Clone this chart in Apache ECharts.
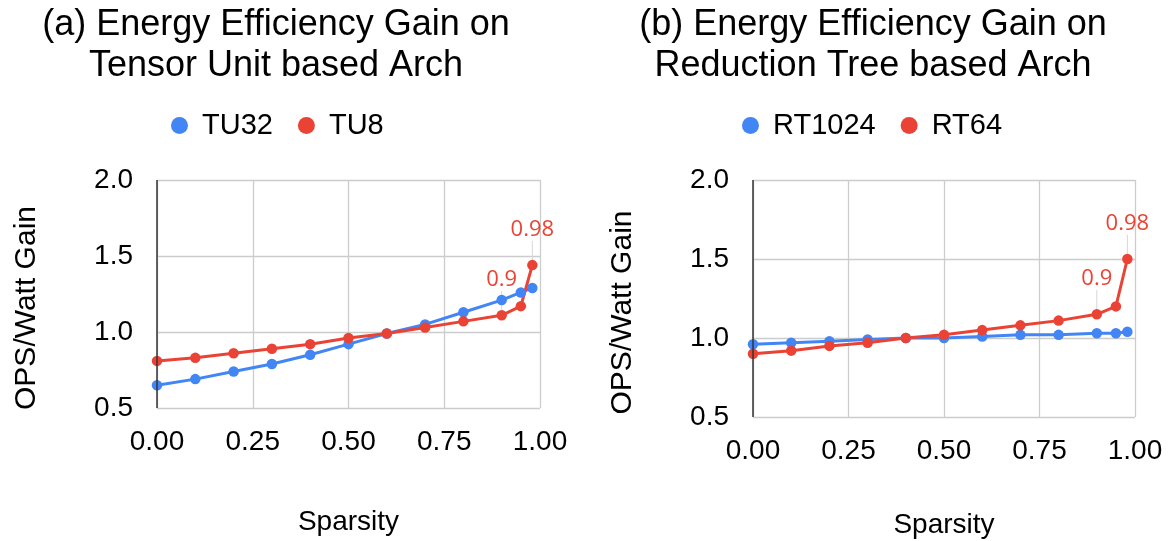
<!DOCTYPE html>
<html>
<head>
<meta charset="utf-8">
<script src="https://cdn.jsdelivr.net/npm/echarts@6/dist/echarts.min.js"></script>
<style>
  html, body { margin: 0; padding: 0; background: #fff; }
  #chart { width: 1173px; height: 541px; }
</style>
</head>
<body>
<div id="chart"></div>
<script>
// sparsity values shared by both panels
const sparsity = [0, 0.1, 0.2, 0.3, 0.4, 0.5, 0.6, 0.7, 0.8, 0.9, 0.95, 0.98];
const xTicks = [0, 0.25, 0.5, 0.75, 1.0];
const yTicks = [0.5, 1.0, 1.5, 2.0];

// (a) tensor unit based arch
const tu32 = [0.65, 0.69, 0.74, 0.79, 0.85, 0.92, 0.99, 1.05, 1.13, 1.21, 1.26, 1.29];
const tu8 = [0.81, 0.83, 0.86, 0.89, 0.92, 0.96, 0.99, 1.03, 1.07, 1.11, 1.17, 1.44];

// (b) reduction tree based arch
const rt1024 = [0.96, 0.97, 0.98, 0.99, 1.0, 1.0, 1.01, 1.02, 1.02, 1.03, 1.03, 1.04];
const rt64 = [0.90, 0.92, 0.95, 0.97, 1.0, 1.02, 1.05, 1.08, 1.11, 1.15, 1.20, 1.50];

const labelled = [0.9, 0.98];

const BLUE = "#4285f4";
const RED = "#ea4335";
const FONT = "Liberation Sans";

function points(ys, withLabels) {
  return sparsity.map(function (x, i) {
    let item = { value: [x, ys[i]] };
    if (withLabels && labelled.indexOf(x) >= 0) {
      item.label = { show: true, formatter: String(x) };
    }
    return item;
  });
}

function lineSeries(name, ys, color, idx, withLabels) {
  return {
    name: name,
    type: "line",
    xAxisIndex: idx,
    yAxisIndex: idx,
    data: points(ys, withLabels),
    symbol: "circle",
    symbolSize: 10.5,
    showSymbol: true,
    lineStyle: { color: color, width: 3 },
    itemStyle: { color: color },
    label: {
      show: false,
      position: "top",
      distance: 4,
      color: RED,
      fontFamily: "Open Sans",
      fontSize: 22,
    },
    labelLayout: { dy: -15 },
    labelLine: { show: true, lineStyle: { color: "#d6d6d6", width: 1 } },
    emphasis: { disabled: true },
    animation: false,
    z: 2,
  };
}

function xAxis(idx) {
  return {
    type: "value",
    gridIndex: idx,
    min: xTicks[0],
    max: xTicks[xTicks.length - 1],
    interval: 0.25,
    name: "Sparsity",
    nameLocation: "middle",
    nameGap: idx === 0 ? 100 : 94,
    nameTextStyle: { color: "#000", fontSize: 28, fontFamily: FONT },
    axisLine: { show: false },
    axisTick: { show: false },
    splitLine: { show: true, lineStyle: { color: "#cccccc", width: 1.3 } },
    axisLabel: {
      color: "#000",
      fontSize: 28,
      fontFamily: FONT,
      margin: 20,
      formatter: function (v) { return v.toFixed(2); },
    },
  };
}

function yAxis(idx) {
  return {
    type: "value",
    gridIndex: idx,
    min: yTicks[0],
    max: yTicks[yTicks.length - 1],
    interval: 0.5,
    name: "OPS/Watt Gain",
    nameLocation: "middle",
    nameGap: 115,
    nameTextStyle: { color: "#000", fontSize: 30, fontFamily: FONT, padding: [0, 28, 0, 0] },
    axisLine: { show: false },
    axisTick: { show: false },
    splitLine: { show: true, lineStyle: { color: "#cccccc", width: 1.3 } },
    axisLabel: {
      color: "#000",
      fontSize: 28,
      fontFamily: FONT,
      margin: 24,
      formatter: function (v) { return v.toFixed(1); },
    },
  };
}

// dark vertical line at x = 0 on each panel
function zeroLine(idx) {
  return {
    type: "line",
    xAxisIndex: idx,
    yAxisIndex: idx,
    data: [],
    markLine: {
      silent: true,
      symbol: "none",
      label: { show: false },
      lineStyle: { color: "#333", width: 1.5, type: "solid" },
      data: [[{ coord: [0, yTicks[0]] }, { coord: [0, yTicks[yTicks.length - 1]] }]],
    },
    z: 1,
    animation: false,
  };
}

const legendBase = {
  top: 106,
  icon: "circle",
  itemWidth: 17,
  itemHeight: 17,
  itemGap: 25,
  textStyle: { fontSize: 29, color: "#000", fontFamily: FONT, padding: [0, 0, 0, 9] },
};

const chart = echarts.init(document.getElementById("chart"), null, { renderer: "canvas" });

chart.setOption({
  backgroundColor: "#fff",
  animation: false,
  title: [
    {
      text: "(a) Energy Efficiency Gain on\nTensor Unit based Arch",
      left: 271,
      top: 0,
      textAlign: "center",
      textStyle: { fontSize: 36, fontWeight: "normal", color: "#000", fontFamily: FONT, lineHeight: 41 },
    },
    {
      text: "(b) Energy Efficiency Gain on\nReduction Tree based Arch",
      left: 868,
      top: 0,
      textAlign: "center",
      textStyle: { fontSize: 36, fontWeight: "normal", color: "#000", fontFamily: FONT, lineHeight: 41 },
    },
  ],
  legend: [
    Object.assign({ data: ["TU32", "TU8"], left: 166 }, legendBase),
    Object.assign({ data: ["RT1024", "RT64"], left: 737 }, legendBase),
  ],
  grid: [
    { left: 157, top: 180, width: 383, height: 228 },
    { left: 753, top: 180, width: 382, height: 237 },
  ],
  xAxis: [xAxis(0), xAxis(1)],
  yAxis: [yAxis(0), yAxis(1)],
  series: [
    zeroLine(0),
    zeroLine(1),
    lineSeries("TU32", tu32, BLUE, 0, false),
    lineSeries("TU8", tu8, RED, 0, true),
    lineSeries("RT1024", rt1024, BLUE, 1, false),
    lineSeries("RT64", rt64, RED, 1, true),
  ],
});
</script>
</body>
</html>
